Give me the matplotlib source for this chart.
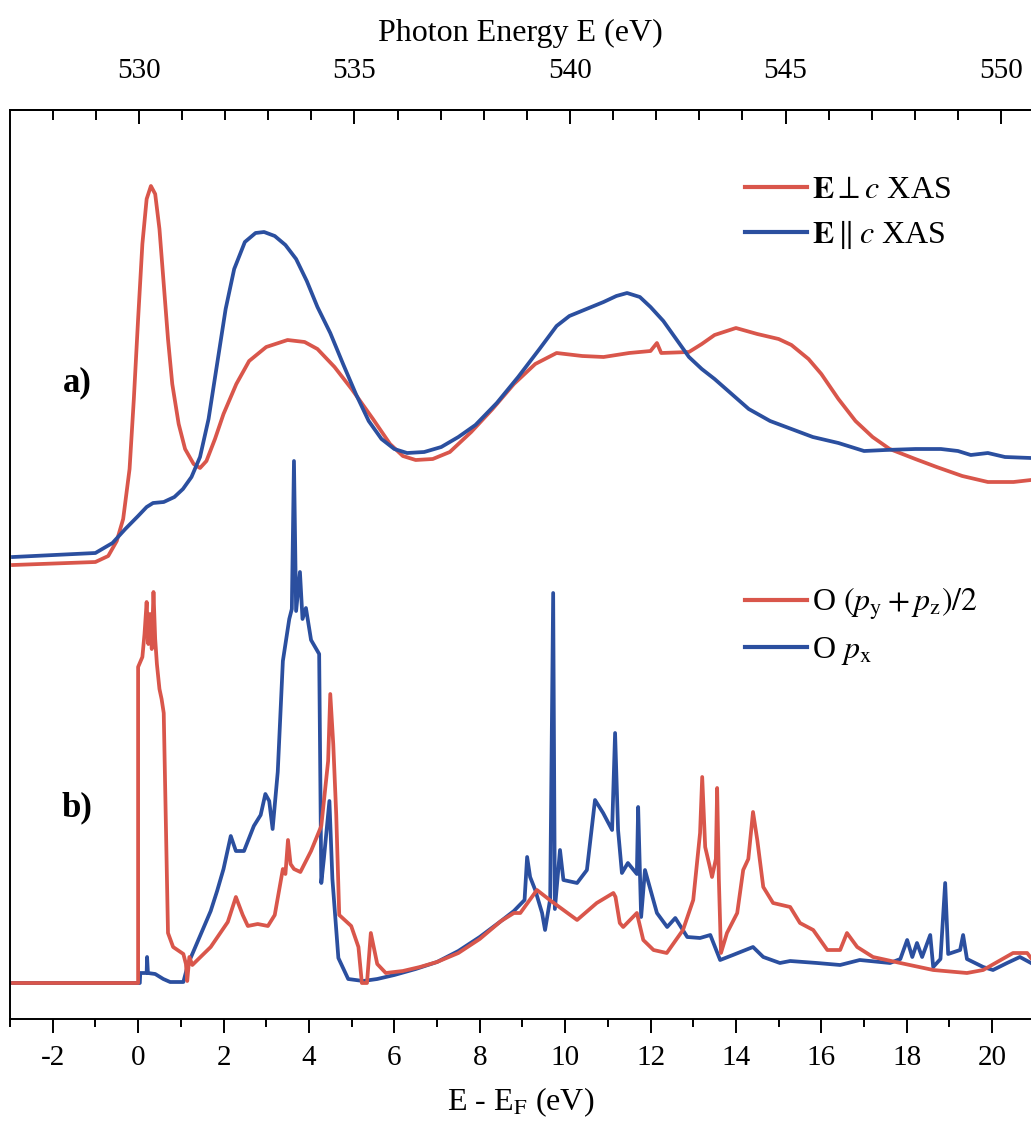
import matplotlib
matplotlib.use("Agg")
import matplotlib.pyplot as plt
from matplotlib.lines import Line2D
from matplotlib.ticker import FixedLocator, MultipleLocator

plt.rcParams["font.family"] = ["Liberation Serif", "DejaVu Serif"]
plt.rcParams["mathtext.fontset"] = "stix"
plt.rcParams["axes.unicode_minus"] = False

RED = "#d9564b"
BLUE = "#2b4f9f"

# a) XAS, E perp c (x: E - E_F in eV, y: intensity incl. vertical offset, arb. units)
xas_perp_e = [-2.93, -1.0, -0.7, -0.5, -0.35, -0.2, -0.1, 0.0, 0.1, 0.2, 0.3, 0.4,
              0.5, 0.6, 0.7, 0.8, 0.95, 1.1, 1.3, 1.45, 1.6, 1.8, 2.0, 2.3, 2.6,
              3.0, 3.5, 3.9, 4.2, 4.6, 5.0, 5.5, 5.9, 6.2, 6.5, 6.9, 7.3, 7.8,
              8.3, 8.8, 9.3, 9.8, 10.4, 10.9, 11.5, 12.0, 12.15, 12.25, 12.9,
              13.2, 13.5, 14.0, 14.5, 15.0, 15.3, 15.7, 16.0, 16.4, 16.8, 17.2,
              17.6, 18.2, 18.7, 19.3, 19.9, 20.5, 20.91]
xas_perp_y = [4.54, 4.57, 4.63, 4.78, 5.0, 5.5, 6.2, 7.0, 7.75, 8.2, 8.33, 8.25,
              7.9, 7.35, 6.8, 6.35, 5.95, 5.7, 5.55, 5.51, 5.58, 5.8, 6.05, 6.35,
              6.58, 6.72, 6.79, 6.77, 6.7, 6.52, 6.3, 6.0, 5.75, 5.63, 5.59, 5.6,
              5.67, 5.87, 6.1, 6.35, 6.55, 6.66, 6.63, 6.62, 6.66, 6.68, 6.76,
              6.66, 6.67, 6.75, 6.84, 6.91, 6.85, 6.8, 6.74, 6.6, 6.45, 6.2,
              5.98, 5.82, 5.7, 5.6, 5.52, 5.43, 5.37, 5.37, 5.39]

# a) XAS, E parallel c
xas_par_e = [-2.93, -1.0, -0.6, -0.3, 0.0, 0.2, 0.35, 0.6, 0.85, 1.05, 1.25, 1.45,
             1.65, 1.85, 2.05, 2.25, 2.5, 2.75, 2.95, 3.2, 3.45, 3.7, 3.95, 4.2,
             4.5, 4.8, 5.1, 5.4, 5.7, 6.0, 6.3, 6.7, 7.1, 7.5, 7.9, 8.4, 8.9,
             9.4, 9.8, 10.1, 10.5, 10.9, 11.2, 11.45, 11.75, 12.0, 12.3, 12.6,
             12.9, 13.2, 13.5, 13.9, 14.3, 14.8, 15.3, 15.8, 16.4, 17.0, 17.5,
             18.2, 18.8, 19.2, 19.5, 19.9, 20.3, 20.91]
xas_par_y = [4.62, 4.66, 4.76, 4.9, 5.03, 5.12, 5.16, 5.17, 5.22, 5.3, 5.42, 5.62,
             6.0, 6.55, 7.1, 7.5, 7.77, 7.86, 7.87, 7.83, 7.74, 7.6, 7.38, 7.12,
             6.86, 6.55, 6.25, 5.98, 5.8, 5.7, 5.66, 5.67, 5.72, 5.82, 5.94, 6.16,
             6.42, 6.7, 6.93, 7.03, 7.1, 7.17, 7.23, 7.26, 7.22, 7.12, 6.98, 6.8,
             6.62, 6.5, 6.4, 6.25, 6.1, 5.98, 5.9, 5.82, 5.76, 5.68, 5.69,
             5.7, 5.7, 5.68, 5.64, 5.66, 5.62, 5.61]

# b) O (py+pz)/2 partial DOS
dos_yz_e = [-2.93, 0.0, 0.0, 0.1, 0.15, 0.2, 0.24, 0.28, 0.32, 0.36, 0.4, 0.44,
            0.5, 0.55, 0.6, 0.7, 0.82, 1.06, 1.12, 1.15, 1.2, 1.27, 1.7, 2.1,
            2.29, 2.45, 2.57, 2.8, 3.04, 3.2, 3.39, 3.45, 3.51, 3.57, 3.65, 3.8,
            4.05, 4.29, 4.45, 4.5, 4.57, 4.64, 4.71, 4.99, 5.16, 5.24, 5.36,
            5.45, 5.6, 5.8, 6.2, 6.6, 7.0, 7.5, 8.0, 8.5, 8.8, 8.95, 9.34, 9.64,
            9.96, 10.28, 10.74, 11.13, 11.18, 11.28, 11.36, 11.68, 11.83, 12.07,
            12.38, 12.76, 13.0, 13.16, 13.21, 13.28, 13.4, 13.44, 13.53, 13.56,
            13.6, 13.65, 13.79, 14.03, 14.17, 14.29, 14.4, 14.5, 14.64, 14.87,
            15.27, 15.5, 15.81, 16.14, 16.44, 16.6, 16.84, 17.21, 17.85, 18.62,
            19.41, 19.79, 20.49, 20.82, 20.91]
dos_yz_y = [0.36, 0.36, 3.52, 3.62, 3.85, 4.17, 3.75, 4.05, 3.7, 4.27, 3.8, 3.55,
            3.3, 3.2, 3.06, 0.86, 0.72, 0.65, 0.55, 0.38, 0.62, 0.54, 0.72, 0.97,
            1.22, 1.04, 0.93, 0.95, 0.93, 1.04, 1.5, 1.45, 1.79, 1.55, 1.5, 1.47,
            1.68, 1.93, 2.58, 3.25, 2.75, 2.04, 1.04, 0.93, 0.72, 0.36, 0.36,
            0.86, 0.55, 0.46, 0.48, 0.52, 0.57, 0.66, 0.8, 0.98, 1.06, 1.06, 1.29,
            1.19, 1.09, 0.99, 1.16, 1.26, 1.22, 0.96, 0.92, 1.06, 0.79, 0.69,
            0.66, 0.89, 1.19, 1.86, 2.42, 1.72, 1.5, 1.42, 1.6, 2.31,
            1.4, 0.66, 0.86, 1.06, 1.49, 1.6, 2.07, 1.79, 1.32, 1.16,
            1.12, 0.96, 0.89, 0.69, 0.69, 0.86, 0.72, 0.62, 0.56, 0.49,
            0.46, 0.49, 0.66, 0.66, 0.61]

# b) O px partial DOS
dos_x_e = [-2.93, 0.04, 0.05, 0.2, 0.21, 0.23, 0.4, 0.59, 0.75, 1.06, 1.17, 1.3,
           1.5, 1.7, 1.85, 2.0, 2.17, 2.29, 2.48, 2.71, 2.87, 2.98, 3.07, 3.15,
           3.27, 3.39, 3.54, 3.6, 3.65, 3.7, 3.79, 3.85, 3.93, 4.05, 4.24, 4.29,
           4.35, 4.48, 4.55, 4.69, 4.92, 5.27, 5.6, 6.0, 6.5, 7.0, 7.5, 8.0, 8.5,
           8.8, 9.05, 9.11, 9.18, 9.3, 9.46, 9.53, 9.65, 9.72, 9.76, 9.88, 9.96,
           10.28, 10.51, 10.7, 10.89, 11.1, 11.17, 11.24, 11.33, 11.47, 11.68,
           11.71, 11.78, 11.87, 12.15, 12.39, 12.58, 12.86, 13.16, 13.4, 13.63,
           13.93, 14.4, 14.64, 15.03, 15.27, 15.9, 16.44, 16.9, 17.61, 17.85,
           18.01, 18.13, 18.24, 18.36, 18.55, 18.62, 18.79, 18.9, 18.97, 19.25,
           19.32, 19.41, 19.79, 20.02, 20.35, 20.65, 20.91]
dos_x_y = [0.36, 0.36, 0.46, 0.46, 0.62, 0.46, 0.45, 0.4, 0.37, 0.37, 0.55, 0.68,
           0.88, 1.08, 1.28, 1.5, 1.83, 1.68, 1.68, 1.93, 2.04, 2.25, 2.18, 1.9,
           2.47, 3.58, 4.0, 4.1, 5.58, 4.08, 4.47, 4.0, 4.11, 3.79, 3.65, 1.36,
           1.6, 2.18, 1.4, 0.61, 0.4, 0.38, 0.4, 0.44, 0.5, 0.57, 0.68, 0.82, 0.98,
           1.08, 1.19, 1.62, 1.42, 1.29, 1.06, 0.89, 1.2, 4.26, 1.1, 1.69, 1.39,
           1.36, 1.49, 2.19, 2.06, 1.89, 2.86, 1.89, 1.46, 1.56, 1.45,
           2.12, 1.02, 1.49, 1.06, 0.92, 1.01, 0.82, 0.81, 0.84, 0.59,
           0.64, 0.72, 0.62, 0.56, 0.58, 0.56, 0.54, 0.59, 0.56, 0.6,
           0.79, 0.62, 0.76, 0.62, 0.84, 0.52, 0.6, 1.36, 0.65, 0.69,
           0.84, 0.6, 0.52, 0.49, 0.56, 0.62, 0.56]

# photon energy axis calibration (530 eV sits at E - E_F = 0.02)
PH_REF = 530.0
E_REF = 0.02
PH_SCALE = 0.9906
ph_major = [530, 535, 540, 545, 550]
ph_minor = list(range(527, 552))

fig = plt.figure(figsize=(10.31, 11.26), dpi=100)
ax = fig.add_axes([10 / 1031, 107 / 1126, 1021 / 1031, 909 / 1126])

lw = 2.7
ax.plot(xas_perp_e, xas_perp_y, color=RED, lw=lw)
ax.plot(xas_par_e, xas_par_y, color=BLUE, lw=lw)
ax.plot(dos_x_e, dos_x_y, color=BLUE, lw=lw)
ax.plot(dos_yz_e, dos_yz_y, color=RED, lw=lw)

ax.set_xlim(-3, 20.91)
ax.set_ylim(0, 9.09)
ax.set_yticks([])
ax.spines["right"].set_visible(False)
for s in ("left", "top", "bottom"):
    ax.spines[s].set_linewidth(1.4)

ax.xaxis.set_major_locator(MultipleLocator(2))
ax.xaxis.set_minor_locator(MultipleLocator(1))
ax.tick_params(axis="x", which="both", direction="out", top=False, labelsize=21,
               width=1.4, pad=9)
ax.tick_params(axis="x", which="major", length=10)
ax.tick_params(axis="x", which="minor", length=6)
ax.set_xlabel(r"E - E$_\mathrm{F}$ (eV)", fontsize=23, labelpad=10)

top = ax.secondary_xaxis(
    "top",
    functions=(lambda e: PH_REF + (e - E_REF) * PH_SCALE,
               lambda p: E_REF + (p - PH_REF) / PH_SCALE),
)
top.xaxis.set_major_locator(FixedLocator(ph_major))
top.xaxis.set_minor_locator(FixedLocator(ph_minor))
top.tick_params(axis="x", which="both", direction="in", labelsize=21, width=1.4, pad=19)
top.tick_params(axis="x", which="major", length=10)
top.tick_params(axis="x", which="minor", length=7)
top.set_xlabel("Photon Energy E (eV)", fontsize=23, labelpad=12)
top.spines["top"].set_linewidth(1.4)

leg_kw = dict(frameon=False, loc="upper left", borderpad=0, borderaxespad=0,
              handlelength=1.95, handletextpad=0.15, fontsize=23)
leg1 = ax.legend(
    handles=[Line2D([], [], color=RED, lw=3),
             Line2D([], [], color=BLUE, lw=3)],
    labels=[r"$\mathbf{E}\perp c$ XAS", r"$\mathbf{E}\parallel c$ XAS"],
    bbox_to_anchor=(0.72, 0.928), labelspacing=0.45, **leg_kw)
ax.add_artist(leg1)
ax.legend(
    handles=[Line2D([], [], color=RED, lw=3),
             Line2D([], [], color=BLUE, lw=3)],
    labels=[r"O $(p_\mathrm{y} + p_\mathrm{z})/2$", r"O $p_\mathrm{x}$"],
    bbox_to_anchor=(0.72, 0.4767), labelspacing=0.4, **leg_kw)

ax.text(0.066, 0.70, "a)", transform=ax.transAxes, fontsize=25, fontweight="bold",
        ha="center", va="center")
ax.text(0.066, 0.232, "b)", transform=ax.transAxes, fontsize=25, fontweight="bold",
        ha="center", va="center")

fig.savefig("out.png", dpi=100)
